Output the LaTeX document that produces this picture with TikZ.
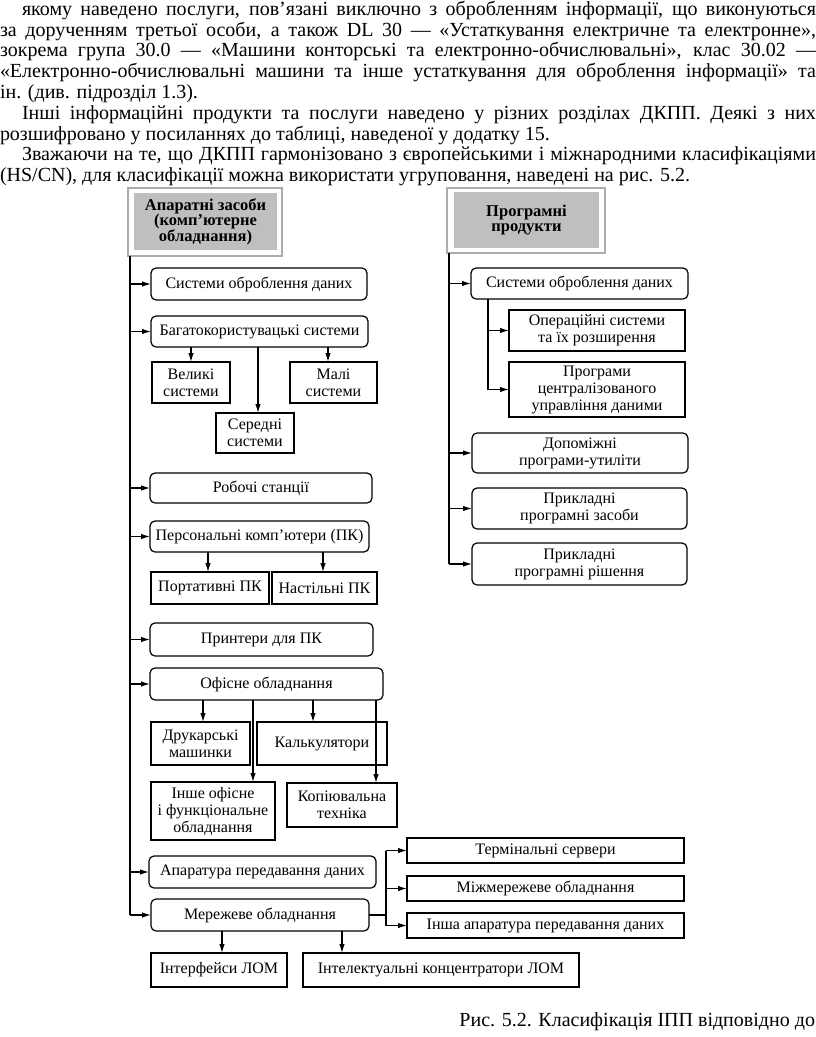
\documentclass[tikz,border=0pt]{standalone}
\usepackage{fontspec}
\setmainfont{Liberation Serif}
\usetikzlibrary{arrows.meta}
\begin{document}
\begin{tikzpicture}[x=1pt,y=-1pt,
  every node/.style={inner sep=0pt, outer sep=0pt},
  body/.style={anchor=mid west, font=\fontsize{20}{21}\selectfont},
  rbox/.style={draw, line width=1.2pt, rounded corners=5pt, align=center, font=\fontsize{16}{17}\selectfont},
  sbox/.style={draw, line width=1.2pt, align=center, font=\fontsize{16}{17}\selectfont},
  hframe/.style={draw=gray!65, line width=2.2pt},
  hfill/.style={fill=gray!50, align=center, font=\bfseries\fontsize{16.5}{15.5}\selectfont},
  conn/.style={line width=1.2pt},
  arr/.style={line width=1.2pt, -{Latex[length=9pt,width=5.5pt]}}
]
\useasboundingbox (0,0) rectangle (816,1037);

% ---------- body text ----------
\node[body] (t1) at (22,13) {\hbox to 794pt{якому наведено послуги, пов’язані виключно з обробленням інформації, що виконуються}};
\node[body] (t2) at (0,33.8) {\hbox to 816pt{за дорученням третьої особи, а також DL 30 — «Устаткування електричне та електронне»,}};
\node[body] (t3) at (0,54.6) {\hbox to 816pt{зокрема група 30.0 — «Машини конторські та електронно-обчислювальні», клас 30.02 —}};
\node[body] (t4) at (0,75.4) {\hbox to 816pt{«Електронно-обчислювальні машини та інше устаткування для оброблення інформації» та}};
\node[body] (t5) at (0,96.2) {ін. (див. підрозділ 1.3).};
\node[body] (t6) at (22,117) {\hbox to 794pt{Інші інформаційні продукти та послуги наведено у різних розділах ДКПП. Деякі з них}};
\node[body] (t7) at (0,137.8) {розшифровано у посиланнях до таблиці, наведеної у додатку 15.};
\node[body] (t8) at (22,158.6) {\hbox to 794pt{Зважаючи на те, що ДКПП гармонізовано з європейськими і міжнародними класифікаціями}};
\node[body] (t9) at (0,179.4) {(HS/CN), для класифікації можна використати угруповання, наведені на рис. 5.2.};

% ---------- headers ----------
\node[hframe, minimum width=154pt, minimum height=68pt] (H1o) at (205,222) {};
\node[hfill, minimum width=143pt, minimum height=57pt] (H1) at (205.5,221.5) {Апаратні засоби\\(комп’ютерне\\обладнання)};
\node[hframe, minimum width=158pt, minimum height=65pt] (H2o) at (526,220.5) {};
\node[hfill, minimum width=145pt, minimum height=56pt] (H2) at (526.5,220) {Програмні\\продукти};

% ---------- left column ----------
\node[rbox, minimum width=216pt, minimum height=32pt] (B1) at (259,284) {Системи оброблення даних};
\node[rbox, minimum width=217pt, minimum height=31pt] (B2) at (259.5,331.5) {Багатокористувацькі системи};
\node[sbox, minimum width=78pt, minimum height=41pt] (B2a) at (191,382.5) {Великі\\системи};
\node[sbox, minimum width=78pt, minimum height=40pt] (B2b) at (255,433) {Середні\\системи};
\node[sbox, minimum width=87pt, minimum height=41pt] (B2c) at (333.5,382.5) {Малі\\системи};
\node[rbox, minimum width=222pt, minimum height=30pt] (B3) at (261,488) {Робочі станції};
\node[rbox, minimum width=219pt, minimum height=31pt] (B4) at (259.5,536.5) {Персональні комп’ютери (ПК)};
\node[sbox, minimum width=118pt, minimum height=32pt] (B4a) at (210,588) {Портативні ПК};
\node[sbox, minimum width=105pt, minimum height=32pt] (B4b) at (324.5,588) {Настільні ПК};
\node[rbox, minimum width=223pt, minimum height=33pt] (B5) at (261.5,639.5) {Принтери для ПК};
\node[rbox, minimum width=233pt, minimum height=32pt] (B6) at (266.5,684) {Офісне обладнання};
\node[sbox, minimum width=99pt, minimum height=43pt] (B6a) at (200.5,743.5) {Друкарські\\машинки};
\node[sbox, minimum width=130pt, minimum height=43pt] (B6b) at (322,743.5) {Калькулятори};
\node[sbox, minimum width=124pt, minimum height=58pt] (B6c) at (213,811) {Інше офісне\\і функціональне\\обладнання};
\node[sbox, minimum width=110pt, minimum height=44pt] (B6d) at (342,805) {Копіювальна\\техніка};
\node[rbox, minimum width=227pt, minimum height=32pt] (B7) at (262.5,872) {Апаратура передавання даних};
\node[rbox, minimum width=218pt, minimum height=32pt] (B8) at (260,915) {Мережеве обладнання};
\node[sbox, minimum width=136pt, minimum height=34pt] (B8a) at (219,970) {Інтерфейси ЛОМ};
\node[sbox, minimum width=276pt, minimum height=34pt] (B8b) at (441,970) {Інтелектуальні концентратори ЛОМ};
\node[sbox, minimum width=277pt, minimum height=25pt] (R1) at (545.5,850.5) {Термінальні сервери};
\node[sbox, minimum width=277pt, minimum height=25pt] (R2) at (545.5,888.5) {Міжмережеве обладнання};
\node[sbox, minimum width=277pt, minimum height=25pt] (R3) at (545.5,925.5) {Інша апаратура передавання даних};

% ---------- right column ----------
\node[rbox, minimum width=217pt, minimum height=31pt] (C1) at (579.5,283.5) {Системи оброблення даних};
\node[sbox, minimum width=176pt, minimum height=41pt] (C1a) at (597,330.5) {Операційні системи\\та їх розширення};
\node[sbox, minimum width=176pt, minimum height=55pt] (C1b) at (597,389.5) {Програми\\централізованого\\управління даними};
\node[rbox, minimum width=216pt, minimum height=40pt] (C2) at (580,453) {Допоміжні\\програми-утиліти};
\node[rbox, minimum width=215pt, minimum height=41pt] (C3) at (579.5,508.5) {Прикладні\\програмні засоби};
\node[rbox, minimum width=215pt, minimum height=42pt] (C4) at (579.5,564) {Прикладні\\програмні рішення};

% ---------- caption ----------
\node[anchor=mid east, font=\fontsize{20}{21}\selectfont] (cap) at (815,1024) {Рис. 5.2. Класифікація ІПП відповідно до};

% ---------- helper coordinates ----------
\coordinate (tl) at (130,256);
\coordinate (tr) at (449,253);
\coordinate (ts) at (488,299);
\coordinate (bj) at (386,915);
\coordinate (x191) at (191,0);
\coordinate (x258) at (258,0);
\coordinate (x328) at (328,0);
\coordinate (x208) at (208,0);
\coordinate (x323) at (323,0);
\coordinate (x203) at (203,0);
\coordinate (x253) at (253,0);
\coordinate (x313) at (313,0);
\coordinate (x376) at (376,0);
\coordinate (x222) at (222,0);
\coordinate (x342) at (342,0);

% ---------- left trunk ----------
\draw[conn] (tl) -- (tl |- B8.west);
\foreach \b in {B1,B2,B3,B4,B5,B6,B7,B8}
  \draw[arr] (tl |- \b.west) -- (\b.west);
\draw[arr] (B2.south -| x191) -- (B2a.north -| x191);
\draw[arr] (B2.south -| x258) -- (B2b.north -| x258);
\draw[arr] (B2.south -| x328) -- (B2c.north -| x328);
\draw[arr] (B4.south -| x208) -- (B4a.north -| x208);
\draw[arr] (B4.south -| x323) -- (B4b.north -| x323);
\draw[arr] (B6.south -| x203) -- (B6a.north -| x203);
\draw[arr] (B6.south -| x313) -- (B6b.north -| x313);
\draw[arr] (B6.south -| x253) -- (B6c.north -| x253);
\draw[arr] (B6.south -| x376) -- (B6d.north -| x376);
\draw[arr] (B8.south -| x222) -- (B8a.north -| x222);
\draw[arr] (B8.south -| x342) -- (B8b.north -| x342);
\draw[conn] (B8.east) -- (bj);
\draw[conn] (bj |- R1.west) -- (bj |- R3.west);
\foreach \r in {R1,R2,R3}
  \draw[arr] (bj |- \r.west) -- (\r.west);

% ---------- right trunk ----------
\draw[conn] (tr) -- (tr |- C4.west);
\foreach \c in {C1,C2,C3,C4}
  \draw[arr] (tr |- \c.west) -- (\c.west);
\draw[conn] (ts) -- (ts |- C1b.west);
\draw[arr] (ts |- C1a.west) -- (C1a.west);
\draw[arr] (ts |- C1b.west) -- (C1b.west);
\end{tikzpicture}
\end{document}
